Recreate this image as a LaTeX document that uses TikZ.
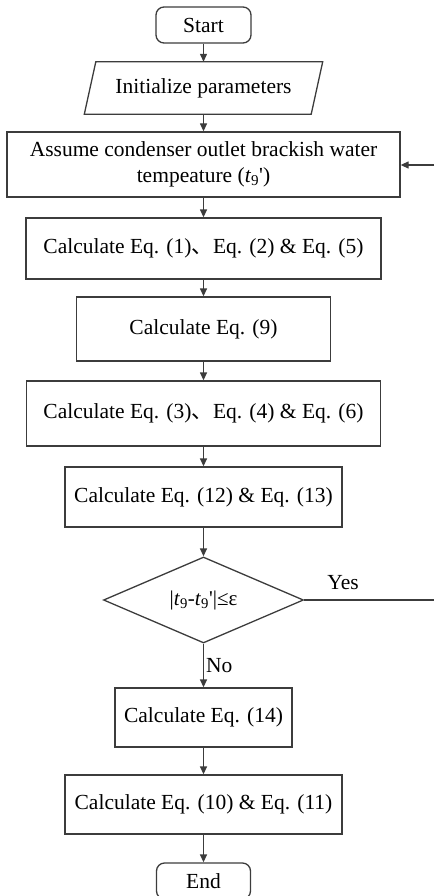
\documentclass[tikz,border=0pt]{standalone}
\usepackage{fontspec}
\setmainfont{Liberation Serif}
\newfontfamily\cjk{Noto Sans CJK SC}
\usetikzlibrary{shapes.geometric,arrows.meta}
\definecolor{linegray}{HTML}{3C3C3C}
\begin{document}
\begin{tikzpicture}[x=1pt,y=-1pt,
  font=\fontsize{21.5}{26}\selectfont,
  box/.style={draw=linegray,line width=1.3pt,rectangle,inner sep=0pt,align=center},
  term/.style={box,rounded corners=8pt},
  arr/.style={draw=linegray,line width=1.3pt,-{Triangle[length=8pt,width=7pt]}},
  ln/.style={draw=linegray,line width=1.3pt}]
\useasboundingbox (0,0) rectangle (434,896);

\node[term,minimum width=95pt,minimum height=36pt] (start) at (203.5,25) {Start};
\node[inner sep=0pt,minimum width=226.5pt,minimum height=52pt] (init) at (203.5,88) {Initialize parameters};
\draw[ln] ([xshift=5.75pt]init.north west) -- ([xshift=5.75pt]init.north east)
  -- ([xshift=-5.75pt]init.south east) -- ([xshift=-5.75pt]init.south west) -- cycle;
\node[box,minimum width=393pt,minimum height=65pt] (assume) at (203.5,164.5)
  {Assume condenser outlet brackish water\\tempeature (\textit{t}\textsubscript{9}\textquotesingle)};
\node[box,minimum width=355pt,minimum height=61pt] (c1) at (203.5,248.5)
  {Calculate Eq. (1){\cjk 、}Eq. (2) \& Eq. (5)};
\node[box,minimum width=254pt,minimum height=64pt] (c9) at (203.5,329) {Calculate Eq. (9)};
\node[box,minimum width=354pt,minimum height=65pt] (c3) at (203.5,413.5)
  {Calculate Eq. (3){\cjk 、}Eq. (4) \& Eq. (6)};
\node[box,minimum width=277pt,minimum height=60pt] (c12) at (203.5,497)
  {Calculate Eq. (12) \& Eq. (13)};
\node[diamond,draw=linegray,line width=1.3pt,aspect=2.33,minimum width=200pt,
  minimum height=86pt,inner sep=0pt,font=\fontsize{21}{24}\selectfont] (dec) at (203.5,600)
  {\textbar\textit{t}\textsubscript{9}-\textit{t}\textsubscript{9}\textquotesingle\textbar≤ε};
\node[box,minimum width=177pt,minimum height=59pt] (c14) at (203.5,717.5) {Calculate Eq. (14)};
\node[box,minimum width=277pt,minimum height=59pt] (c10) at (203.5,804.5)
  {Calculate Eq. (10) \& Eq. (11)};
\node[term,minimum width=94pt,minimum height=36pt] (end) at (203.5,881) {End};

\coordinate (fbout) at (434,600);
\coordinate (fbin) at (434,165);

\draw[arr] (start.south) -- (init.north);
\draw[arr] (init.south) -- (assume.north);
\draw[arr] (assume.south) -- (c1.north);
\draw[arr] (c1.south) -- (c9.north);
\draw[arr] (c9.south) -- (c3.north);
\draw[arr] (c3.south) -- (c12.north);
\draw[arr] (c12.south) -- (dec.north);
\draw[arr] (dec.south) -- node[right,inner sep=2pt] (nolab) {No} (c14.north);
\draw[arr] (c14.south) -- (c10.north);
\draw[arr] (c10.south) -- (end.north);
\draw[ln] (dec.east) -- node[pos=0.3,yshift=17pt] (yeslab) {Yes} (fbout);
\draw[arr] (fbin) -- (assume.east |- fbin);
\end{tikzpicture}
\end{document}
